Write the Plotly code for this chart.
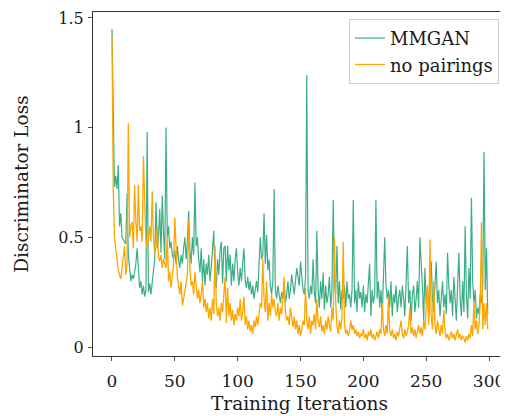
import plotly.graph_objects as go

iterations = list(range(300))

mmgan = [
    1.45, 0.95, 0.73, 0.78, 0.72, 0.83, 0.55, 0.61, 0.50, 0.49,
    0.48, 0.47, 0.70, 0.42, 0.36, 0.30, 0.33, 0.31, 0.34, 0.38,
    0.45, 0.37, 0.27, 0.30, 0.24, 0.28, 0.23, 0.26, 0.98, 0.25,
    0.29, 0.24, 0.30, 0.36, 0.40, 0.66, 0.45, 0.50, 0.63, 0.43,
    0.69, 0.52, 0.40, 1.00, 0.50, 0.55, 0.45, 0.48, 0.42, 0.40,
    0.44, 0.38, 0.46, 0.40, 0.36, 0.42, 0.38, 0.45, 0.50, 0.40,
    0.48, 0.62, 0.44, 0.38, 0.50, 0.42, 0.75, 0.46, 0.50, 0.40,
    0.34, 0.45, 0.30, 0.40, 0.28, 0.38, 0.33, 0.42, 0.30, 0.36,
    0.48, 0.53, 0.30, 0.27, 0.40, 0.33, 0.44, 0.48, 0.29, 0.45,
    0.46, 0.30, 0.46, 0.35, 0.42, 0.28, 0.38, 0.30, 0.40, 0.45,
    0.34, 0.28, 0.36, 0.30, 0.38, 0.45, 0.30, 0.27, 0.32, 0.26,
    0.30, 0.24, 0.28, 0.22, 0.26, 0.30, 0.25, 0.35, 0.50, 0.40,
    0.42, 0.61, 0.38, 0.51, 0.35, 0.40, 0.28, 0.24, 0.30, 0.72,
    0.26, 0.22, 0.28, 0.24, 0.20, 0.25, 0.22, 0.28, 0.20, 0.24,
    0.30, 0.22, 0.26, 0.33, 0.28, 0.24, 0.30, 0.36, 0.32, 0.28,
    0.39, 0.30, 0.26, 0.24, 0.32, 1.24, 0.26, 0.22, 0.28, 0.24,
    0.40, 0.25, 0.20, 0.53, 0.26, 0.18, 0.30, 0.22, 0.34, 0.17,
    0.28, 0.20, 0.24, 0.32, 0.18, 0.26, 0.67, 0.30, 0.24, 0.46,
    0.20, 0.30, 0.17, 0.26, 0.22, 0.28, 0.18, 0.30, 0.22, 0.24,
    0.18, 0.26, 0.67, 0.20, 0.26, 0.16, 0.30, 0.22, 0.25, 0.18,
    0.28, 0.16, 0.24, 0.20, 0.30, 0.38, 0.14, 0.26, 0.20, 0.24,
    0.67, 0.22, 0.30, 0.18, 0.26, 0.14, 0.32, 0.50, 0.28, 0.22,
    0.26, 0.18, 0.30, 0.14, 0.24, 0.20, 0.28, 0.16, 0.22, 0.26,
    0.18, 0.28, 0.22, 0.14, 0.30, 0.46, 0.20, 0.26, 0.12, 0.24,
    0.28, 0.16, 0.22, 0.30, 0.18, 0.50, 0.38, 0.28, 0.12, 0.36,
    0.20, 0.26, 0.14, 0.30, 0.39, 0.22, 0.16, 0.28, 0.39, 0.20,
    0.26, 0.14, 0.22, 0.30, 0.18, 0.24, 0.15, 0.43, 0.28, 0.20,
    0.26, 0.14, 0.32, 0.18, 0.12, 0.28, 0.43, 0.22, 0.14, 0.30,
    0.16, 0.55, 0.24, 0.13, 0.36, 0.22, 0.68, 0.30, 0.20, 0.26,
    0.13, 0.18, 0.15, 0.24, 0.20, 0.28, 0.89, 0.26, 0.45, 0.15,
]

no_pairings = [
    1.42, 0.72, 0.50, 0.46, 0.40, 0.35, 0.33, 0.31, 0.36, 0.42,
    0.46, 0.33, 0.38, 1.02, 0.50, 0.55, 0.57, 0.45, 0.74, 0.57,
    0.48, 0.74, 0.53, 0.55, 0.48, 0.87, 0.60, 0.49, 0.45, 0.52,
    0.55, 0.48, 0.71, 0.50, 0.43, 0.46, 0.55, 0.41, 0.39, 0.42,
    0.36, 0.40, 0.38, 0.36, 0.51, 0.30, 0.34, 0.27, 0.32, 0.38,
    0.59, 0.40, 0.32, 0.28, 0.24, 0.30, 0.19, 0.22, 0.26, 0.30,
    0.33, 0.58, 0.36, 0.28, 0.30, 0.24, 0.34, 0.28, 0.22, 0.26,
    0.20, 0.24, 0.30, 0.18, 0.22, 0.16, 0.20, 0.13, 0.18, 0.12,
    0.22, 0.15, 0.46, 0.20, 0.14, 0.18, 0.12, 0.20, 0.16, 0.24,
    0.32, 0.11, 0.27, 0.14, 0.20, 0.12, 0.17, 0.10, 0.15, 0.12,
    0.18, 0.14, 0.22, 0.12, 0.16, 0.23, 0.10, 0.14, 0.08, 0.12,
    0.07, 0.10, 0.06, 0.12, 0.09, 0.14, 0.10, 0.15, 0.20, 0.18,
    0.40, 0.22, 0.16, 0.30, 0.12, 0.20, 0.14, 0.24, 0.18, 0.22,
    0.16, 0.14, 0.20, 0.12, 0.18, 0.15, 0.22, 0.32, 0.16, 0.12,
    0.14, 0.10, 0.18, 0.12, 0.09, 0.14, 0.08, 0.12, 0.06, 0.10,
    0.05, 0.08, 0.12, 0.10, 0.27, 0.12, 0.08, 0.14, 0.06, 0.12,
    0.10, 0.15, 0.08, 0.22, 0.12, 0.09, 0.14, 0.07, 0.10, 0.06,
    0.12, 0.08, 0.14, 0.10, 0.07, 0.18, 0.12, 0.50, 0.20, 0.10,
    0.06, 0.12, 0.08, 0.14, 0.48, 0.10, 0.06, 0.08, 0.05, 0.07,
    0.12, 0.08, 0.10, 0.06, 0.08, 0.05, 0.07, 0.04, 0.06, 0.05,
    0.08, 0.04, 0.06, 0.03, 0.07, 0.05, 0.08, 0.04, 0.06, 0.03,
    0.05, 0.07, 0.04, 0.08, 0.06, 0.20, 0.08, 0.05, 0.10, 0.06,
    0.23, 0.07, 0.05, 0.08, 0.04, 0.06, 0.03, 0.07, 0.05, 0.09,
    0.12, 0.06, 0.04, 0.08, 0.05, 0.07, 0.10, 0.18, 0.06, 0.09,
    0.05, 0.08, 0.04, 0.07, 0.10, 0.06, 0.09, 0.05, 0.12, 0.08,
    0.20, 0.28, 0.10, 0.49, 0.14, 0.08, 0.30, 0.10, 0.06, 0.12,
    0.08, 0.05, 0.10, 0.06, 0.17, 0.07, 0.04, 0.06, 0.03, 0.05,
    0.07, 0.04, 0.06, 0.03, 0.05, 0.08, 0.04, 0.06, 0.03, 0.05,
    0.04, 0.02, 0.05, 0.03, 0.06, 0.04, 0.10, 0.05, 0.21, 0.08,
    0.12, 0.06, 0.10, 0.20, 0.57, 0.08, 0.20, 0.10, 0.20, 0.08,
]

x_ticks = [0, 50, 100, 150, 200, 250, 300]
y_ticks = [0, 0.5, 1, 1.5]
y_tick_labels = ["0", "0.5", "1", "1.5"]

FONT = "DejaVu Serif"
TXT = "#1a1a1a"

fig = go.Figure()
fig.add_trace(go.Scatter(x=iterations, y=mmgan, mode="lines", name="MMGAN",
                         line=dict(color="#3aaf86", width=1.2)))
fig.add_trace(go.Scatter(x=iterations, y=no_pairings, mode="lines", name="no pairings",
                         line=dict(color="#ffa500", width=1.3)))

axis_common = dict(showline=True, linecolor="#333333", linewidth=1.2, mirror=True,
                   showgrid=False, zeroline=False, ticks="outside", ticklen=4,
                   tickcolor="#555555", tickwidth=1)

fig.update_layout(
    width=500, height=408,
    margin=dict(l=85, r=2, t=4, b=60),
    paper_bgcolor="white", plot_bgcolor="white",
    font=dict(family=FONT, size=17, color=TXT),
    xaxis=dict(range=[-15.1, 313.5], tickvals=x_ticks,
               tickfont=dict(family=FONT, size=17, color=TXT), ticklabelstandoff=5,
               title=dict(text="Training Iterations", font=dict(family=FONT, size=18.5, color=TXT), standoff=7),
               **axis_common),
    yaxis=dict(range=[-0.041, 1.527], tickvals=y_ticks, ticktext=y_tick_labels,
               tickfont=dict(family=FONT, size=16, color=TXT), ticklabelstandoff=1,
               title=dict(text="Discriminator Loss", font=dict(family=FONT, size=18.5, color=TXT), standoff=24),
               **axis_common),
    legend=dict(x=0.983, y=0.98, xanchor="right", yanchor="top",
                bgcolor="white", bordercolor="#cccccc", borderwidth=1,
                font=dict(family=FONT, size=18, color=TXT), tracegroupgap=0),
    showlegend=True,
)

fig.write_html("out.html")
